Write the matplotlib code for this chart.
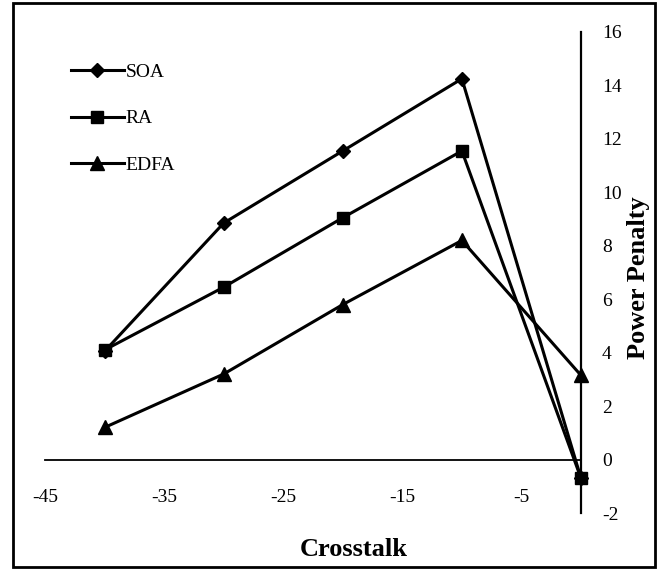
import matplotlib
matplotlib.use("Agg")
import matplotlib.pyplot as plt
from matplotlib.patches import Rectangle

plt.rcParams['font.family'] = ['Liberation Serif', 'DejaVu Serif']

crosstalk = [-40, -30, -20, -10, 0]
soa = [4.05, 8.85, 11.55, 14.25, -0.7]
ra = [4.1, 6.45, 9.05, 11.55, -0.7]
edfa = [1.2, 3.2, 5.8, 8.2, 3.15]
xtick_vals = [-45, -35, -25, -15, -5]
ytick_vals = [-2, 0, 2, 4, 6, 8, 10, 12, 14, 16]

fig = plt.figure(figsize=(6.65, 5.7), dpi=100)
ax = fig.add_axes([45 / 665, 1 - 513 / 570, 536 / 665, 481 / 570])

ax.plot(crosstalk, soa, color='black', lw=2.2, marker='D', ms=7, label='SOA', clip_on=False)
ax.plot(crosstalk, ra, color='black', lw=2.2, marker='s', ms=9, label='RA', clip_on=False)
ax.plot(crosstalk, edfa, color='black', lw=2.2, marker='^', ms=10, label='EDFA', clip_on=False)

ax.set_xlim(-45, 0)
ax.set_ylim(-2, 16)

# y axis on the right edge (x = 0), x axis through y = 0
for s in ['left', 'top']:
    ax.spines[s].set_visible(False)
ax.spines['right'].set_linewidth(1.6)
ax.spines['bottom'].set_position(('data', 0))
ax.spines['bottom'].set_linewidth(1.3)

ax.yaxis.tick_right()
ax.set_yticks(ytick_vals)
ax.set_yticklabels([str(v) for v in ytick_vals])
ax.tick_params(axis='y', length=0, pad=15, labelsize=14)

ax.set_xticks(xtick_vals)
ax.set_xticklabels([str(v) for v in xtick_vals])
ax.tick_params(axis='x', length=0, pad=21, labelsize=14)

fig.text(354 / 665, 1 - 549 / 570, 'Crosstalk', ha='center', va='center',
         fontsize=19, fontweight='bold')
fig.text(638 / 665, 1 - 278 / 570, 'Power Penalty', ha='center', va='center',
         fontsize=19, fontweight='bold', rotation=90)

ax.legend(loc='upper left', bbox_to_anchor=(71 / 665, 1 - 63 / 570),
          bbox_transform=fig.transFigure, frameon=False, fontsize=14,
          handlelength=2.7, handletextpad=0.1, labelspacing=1.5,
          borderpad=0, borderaxespad=0)

# outer frame
fig.patches.append(Rectangle((13 / 665, 3 / 570), 642 / 665, 564 / 570,
                             transform=fig.transFigure, fill=False,
                             edgecolor='black', lw=2))

fig.savefig('out.png', dpi=100)
